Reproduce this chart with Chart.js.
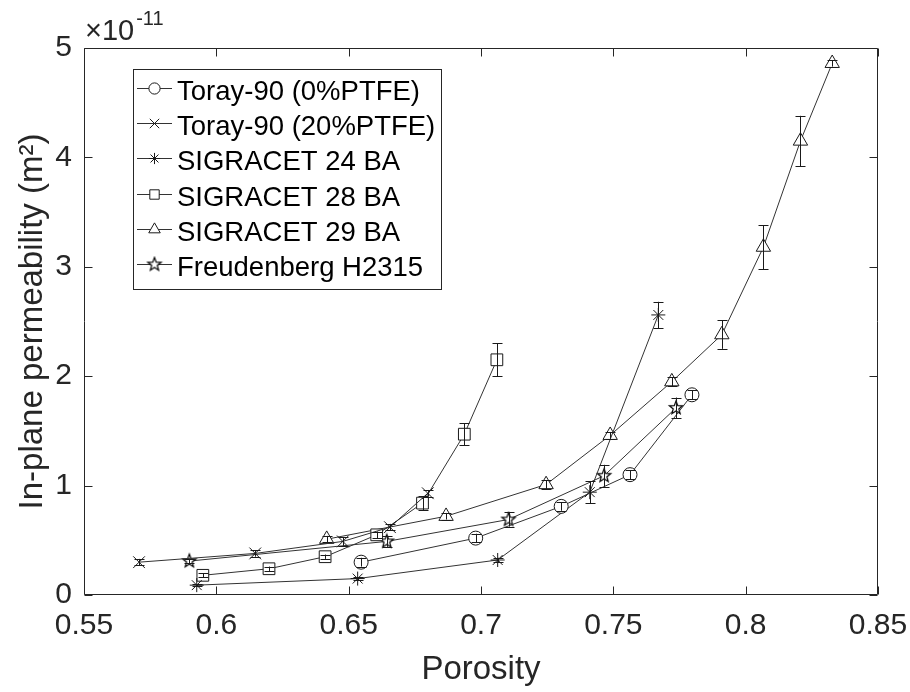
<!DOCTYPE html>
<html>
<head>
<meta charset="utf-8">
<script src="https://cdn.jsdelivr.net/npm/chart.js@4/dist/chart.umd.min.js"></script>
<style>
  html, body { margin: 0; padding: 0; background: #fff; }
  #wrap { width: 910px; height: 692px; position: relative; }
</style>
</head>
<body>
<div id="wrap"><canvas id="chart"></canvas></div>
<script>
// permeability values are in units of 1e-11 m^2
const toray0Porosity = [0.6547, 0.698, 0.7303, 0.7563, 0.7797];
const toray0Perm = [0.30, 0.52, 0.81, 1.10, 1.83];
const toray0Err = [0.04, 0.04, 0.04, 0.04, 0.04];

const toray20Porosity = [0.5708, 0.6147, 0.6478, 0.6656, 0.6799];
const toray20Perm = [0.30, 0.38, 0.49, 0.62, 0.93];
const toray20Err = [0.03, 0.03, 0.04, 0.03, 0.03];

const sgl24Porosity = [0.5926, 0.6534, 0.7063, 0.7411, 0.767];
const sgl24Perm = [0.09, 0.15, 0.32, 0.94, 2.56];
const sgl24Err = [0.01, 0.01, 0.02, 0.10, 0.12];

const sgl28Porosity = [0.5949, 0.6199, 0.6411, 0.6606, 0.6779, 0.6937, 0.706];
const sgl28Perm = [0.18, 0.24, 0.35, 0.55, 0.84, 1.47, 2.15];
const sgl28Err = [0.02, 0.02, 0.02, 0.03, 0.065, 0.10, 0.15];

const sgl29Porosity = [0.6417, 0.6868, 0.7246, 0.7488, 0.7721, 0.791, 0.8067, 0.8207, 0.8327];
const sgl29Perm = [0.51, 0.72, 1.01, 1.46, 1.95, 2.38, 3.18, 4.15, 4.86];
const sgl29Err = [0.03, 0.03, 0.04, 0.03, 0.04, 0.13, 0.20, 0.23, 0.03];

const freudPorosity = [0.5898, 0.6644, 0.7104, 0.7465, 0.7737];
const freudPerm = [0.31, 0.49, 0.69, 1.09, 1.71];
const freudErr = [0.02, 0.05, 0.065, 0.10, 0.095];

const seriesLabels = [
  'Toray-90 (0%PTFE)',
  'Toray-90 (20%PTFE)',
  'SIGRACET 24 BA',
  'SIGRACET 28 BA',
  'SIGRACET 29 BA',
  'Freudenberg H2315',
];

const xTicks = [0.55, 0.6, 0.65, 0.7, 0.75, 0.8, 0.85];
const yTicks = [0, 1, 2, 3, 4, 5];

const FONT = '"Liberation Sans", Arial, Helvetica, sans-serif';
const AXIS_COLOR = '#262626';
const MARK_COLOR = '#1a1a1a';
const LINE_COLOR = '#333333';

// five point star marker (Chart.js 'star' is the asterisk)
function makePentagram(r) {
  const size = Math.ceil(r * 2 + 4);
  const c = document.createElement('canvas');
  c.width = size;
  c.height = size;
  const ctx = c.getContext('2d');
  const cx = size / 2, cy = size / 2;
  ctx.beginPath();
  for (let i = 0; i < 10; i++) {
    const rad = i % 2 === 0 ? r : r * 0.42;
    const a = -Math.PI / 2 + i * Math.PI / 5;
    const px = cx + rad * Math.cos(a), py = cy + rad * Math.sin(a);
    if (i === 0) ctx.moveTo(px, py); else ctx.lineTo(px, py);
  }
  ctx.closePath();
  ctx.fillStyle = '#fff';
  ctx.fill();
  ctx.strokeStyle = '#000';
  ctx.lineWidth = 1.2;
  ctx.stroke();
  return c;
}

function pairs(xs, ys) {
  return xs.map((x, i) => ({ x: x, y: ys[i] }));
}

function makeDataset(label, xs, ys, errs, style, radius) {
  return {
    label: label,
    data: pairs(xs, ys),
    errors: errs,
    showLine: true,
    borderColor: LINE_COLOR,
    borderWidth: 1,
    pointStyle: style,
    pointRadius: radius,
    pointHoverRadius: radius,
    pointBorderColor: MARK_COLOR,
    pointBackgroundColor: '#ffffff',
    pointBorderWidth: 1,
    tension: 0,
  };
}

const datasets = [
  makeDataset(seriesLabels[0], toray0Porosity, toray0Perm, toray0Err, 'circle', 7),
  makeDataset(seriesLabels[1], toray20Porosity, toray20Perm, toray20Err, 'crossRot', 8.3),
  makeDataset(seriesLabels[2], sgl24Porosity, sgl24Perm, sgl24Err, 'star', 7),
  makeDataset(seriesLabels[3], sgl28Porosity, sgl28Perm, sgl28Err, 'rect', 8.3),
  makeDataset(seriesLabels[4], sgl29Porosity, sgl29Perm, sgl29Err, 'triangle', 8.3),
  makeDataset(seriesLabels[5], freudPorosity, freudPerm, freudErr, makePentagram(7), 7),
];

// error bars drawn from each dataset's errors array
const errorBars = {
  id: 'errorBars',
  afterDatasetsDraw(chart) {
    const ctx = chart.ctx;
    const xs = chart.scales.x, ys = chart.scales.y;
    ctx.save();
    ctx.strokeStyle = MARK_COLOR;
    ctx.lineWidth = 1;
    chart.data.datasets.forEach(ds => {
      ds.data.forEach((p, i) => {
        const e = ds.errors[i];
        if (!e) return;
        const x = Math.round(xs.getPixelForValue(p.x)) + 0.5;
        const y1 = ys.getPixelForValue(p.y - e);
        const y2 = ys.getPixelForValue(p.y + e);
        ctx.beginPath();
        ctx.moveTo(x, y1); ctx.lineTo(x, y2);
        ctx.moveTo(x - 5, Math.round(y1) + 0.5); ctx.lineTo(x + 5, Math.round(y1) + 0.5);
        ctx.moveTo(x - 5, Math.round(y2) + 0.5); ctx.lineTo(x + 5, Math.round(y2) + 0.5);
        ctx.stroke();
      });
    });
    ctx.restore();
  },
};

// box around the axes with inward ticks, plus the x10^-11 multiplier
const axesBox = {
  id: 'axesBox',
  beforeDatasetsDraw(chart) {
    const { ctx, chartArea: a } = chart;
    const xs = chart.scales.x, ys = chart.scales.y;
    const L = Math.round(a.left) + 0.5, R = Math.round(a.right) - 0.5;
    const T = Math.round(a.top) + 0.5, B = Math.round(a.bottom) - 0.5;
    ctx.save();
    ctx.strokeStyle = AXIS_COLOR;
    ctx.lineWidth = 1;
    ctx.beginPath();
    ctx.rect(L, T, R - L, B - T);
    xTicks.forEach(v => {
      const x = Math.round(xs.getPixelForValue(v)) + 0.5;
      ctx.moveTo(x, B); ctx.lineTo(x, B - 8);
      ctx.moveTo(x, T); ctx.lineTo(x, T + 8);
    });
    yTicks.forEach(v => {
      const y = Math.round(ys.getPixelForValue(v)) + 0.5;
      ctx.moveTo(L, y); ctx.lineTo(L + 8, y);
      ctx.moveTo(R, y); ctx.lineTo(R - 8, y);
    });
    ctx.stroke();
    ctx.restore();
  },
  afterDraw(chart) {
    const ctx = chart.ctx;
    ctx.save();
    ctx.fillStyle = AXIS_COLOR;
    ctx.textBaseline = 'alphabetic';
    ctx.textAlign = 'left';
    ctx.font = '29px ' + FONT;
    ctx.fillText('\u00d710', 85, 40);
    const w = ctx.measureText('\u00d710').width;
    ctx.font = '20px ' + FONT;
    ctx.fillText('-11', 85 + w + 2, 25);
    ctx.restore();
  },
};

// boxed legend in the upper left of the axes, line through the marker
const boxLegend = {
  id: 'boxLegend',
  afterDraw(chart) {
    const ctx = chart.ctx;
    const left = 133.5, top = 69.5, width = 308, height = 220;
    ctx.save();
    ctx.fillStyle = '#fff';
    ctx.fillRect(left, top, width, height);
    ctx.strokeStyle = AXIS_COLOR;
    ctx.lineWidth = 1;
    ctx.strokeRect(left, top, width, height);
    ctx.font = '27.5px ' + FONT;
    ctx.textAlign = 'left';
    ctx.textBaseline = 'alphabetic';
    chart.data.datasets.forEach((ds, i) => {
      const cy = Math.round(88 + i * 35.2) + 0.5;
      ctx.strokeStyle = LINE_COLOR;
      ctx.beginPath();
      ctx.moveTo(137, cy); ctx.lineTo(172, cy);
      ctx.stroke();
      const opts = {
        pointStyle: ds.pointStyle,
        radius: ds.pointRadius * 0.8,
        rotation: 0,
        borderWidth: 1,
      };
      ctx.strokeStyle = MARK_COLOR;
      ctx.fillStyle = '#fff';
      if (Chart.helpers && Chart.helpers.drawPoint) {
        Chart.helpers.drawPoint(ctx, opts, 154.5, cy);
      }
      ctx.fillStyle = '#000';
      ctx.fillText(ds.label, 177, 100 + i * 35.2);
    });
    ctx.restore();
  },
};

new Chart(document.getElementById('chart'), {
  type: 'scatter',
  data: { datasets: datasets },
  options: {
    responsive: true,
    maintainAspectRatio: false,
    animation: false,
    events: [],
    layout: { padding: { left: 0, top: 48, right: 32, bottom: 0 } },
    plugins: {
      legend: { display: false },
      tooltip: { enabled: false },
    },
    scales: {
      x: {
        type: 'linear',
        min: 0.55,
        max: 0.85,
        afterBuildTicks: s => { s.ticks = xTicks.map(v => ({ value: v })); },
        afterFit: s => { s.height = 97; s.paddingLeft = 0; s.paddingRight = 0; },
        grid: { display: false, drawTicks: false },
        border: { display: false },
        ticks: {
          color: AXIS_COLOR,
          font: { family: FONT, size: 30 },
          padding: 13,
          maxRotation: 0,
          callback: v => String(Number(v.toFixed(2))),
        },
        title: {
          display: true,
          text: 'Porosity',
          color: AXIS_COLOR,
          font: { family: FONT, size: 33 },
          padding: { top: 0, bottom: 2 },
        },
      },
      y: {
        type: 'linear',
        min: 0,
        max: 5,
        afterBuildTicks: s => { s.ticks = yTicks.map(v => ({ value: v })); },
        afterFit: s => { s.width = 84; s.paddingTop = 0; s.paddingBottom = 0; },
        grid: { display: false, drawTicks: false },
        border: { display: false },
        ticks: {
          color: AXIS_COLOR,
          font: { family: FONT, size: 30 },
          padding: 12,
          callback: v => String(v),
        },
        title: {
          display: true,
          text: 'In-plane permeability (m\u00b2)',
          color: AXIS_COLOR,
          font: { family: FONT, size: 33 },
          padding: { top: 13, bottom: 0 },
        },
      },
    },
  },
  plugins: [axesBox, errorBars, boxLegend],
});
</script>
</body>
</html>
